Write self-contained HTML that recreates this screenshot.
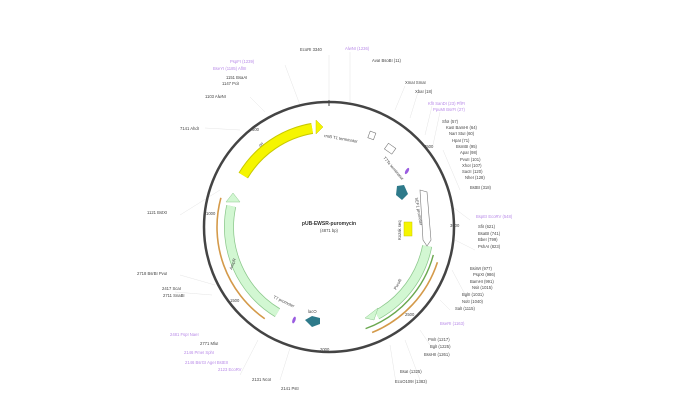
<!DOCTYPE html>
<html><head><meta charset="utf-8"><style>
html,body{margin:0;padding:0;background:#fff;}
svg{display:block;}
text{font-family:"Liberation Sans",sans-serif;font-size:4.2px;}
.k{fill:#444}.p{fill:#b98be8}
</style></head><body>
<svg width="675" height="417" viewBox="0 0 675 417">
<g stroke="#ddd" stroke-width="0.4" fill="none">
<path d="M329 102 V55 M350 104 V52 M395 110 L405 86 M410 118 L418 92 M425 135 L432 106 M433 145 L440 112 M443 150 L460 190 M450 205 L470 220 M455 240 L475 250 M452 270 L468 300 M440 300 L450 310 M420 330 L430 345 M405 340 L420 380 M390 345 L396 383 M258 340 L240 375 M290 348 L280 380 M215 285 L180 275 M212 295 L175 292 M220 190 L180 215 M240 130 L205 128 M265 112 L250 97 M300 105 L285 65"/>
</g>
<circle cx="329" cy="227" r="125" fill="none" stroke="#444" stroke-width="2.5"/>
<line x1="329" y1="100" x2="329" y2="106" stroke="#444" stroke-width="1"/>
<!-- yellow ori -->
<circle cx="329" cy="227" r="100" fill="none" stroke="#c8c800" stroke-width="11" stroke-dasharray="86 600" transform="rotate(-149 329 227)"/>
<circle cx="329" cy="227" r="100" fill="none" stroke="#f5f500" stroke-width="9" stroke-dasharray="86 600" transform="rotate(-149 329 227)"/>
<polygon points="316,120 323,127 316,134" fill="#f5f500" stroke="#c8c800" stroke-width="0.5"/>
<!-- left green -->
<circle cx="329" cy="227" r="100" fill="none" stroke="#8cc88c" stroke-width="10" stroke-dasharray="124 600" transform="rotate(121 329 227)"/>
<circle cx="329" cy="227" r="100" fill="none" stroke="#d2f7d2" stroke-width="8.5" stroke-dasharray="124 600" transform="rotate(121 329 227)"/>
<polygon points="226,202 233,193 240,202" fill="#d2f7d2" stroke="#8cc88c" stroke-width="0.5"/>
<circle cx="329" cy="227" r="112" fill="none" stroke="#d49a4a" stroke-width="1.6" stroke-dasharray="137 800" transform="rotate(125 329 227)"/>
<!-- right green -->
<circle cx="329" cy="227" r="100" fill="none" stroke="#8cc88c" stroke-width="10" stroke-dasharray="88 600" transform="rotate(11 329 227)"/>
<circle cx="329" cy="227" r="100" fill="none" stroke="#d2f7d2" stroke-width="8.5" stroke-dasharray="88 600" transform="rotate(11 329 227)"/>
<polygon points="378,308 365,318 374,320" fill="#d2f7d2" stroke="#8cc88c" stroke-width="0.5"/>
<circle cx="329" cy="227" r="108" fill="none" stroke="#6aa84f" stroke-width="1.4" stroke-dasharray="104 800" transform="rotate(15 329 227)"/>
<circle cx="329" cy="227" r="114" fill="none" stroke="#d49a4a" stroke-width="1.6" stroke-dasharray="99 800" transform="rotate(18 329 227)"/>
<!-- small features -->
<rect x="369" y="132" width="6" height="7" fill="#fff" stroke="#777" stroke-width="0.6" transform="rotate(20 372 135)"/>
<rect x="386" y="145" width="9" height="7" fill="#fff" stroke="#777" stroke-width="0.6" transform="rotate(35 390 148)"/>
<polygon points="420,190 427,192 431,240 427,246 423,240" fill="#fff" stroke="#777" stroke-width="0.6"/>
<rect x="404" y="222" width="8" height="14" fill="#f5f500" stroke="#c8c800" stroke-width="0.5"/>
<polygon points="397,186 404,185 408,194 402,200 396,195" fill="#2e7a8a"/>
<polygon points="305,320 312,316 320,318 320,324 312,327" fill="#2e7a8a"/>
<ellipse cx="407" cy="171" rx="1.5" ry="3.5" fill="#9a5ce0" transform="rotate(30 407 171)"/>
<ellipse cx="294" cy="320" rx="1.5" ry="3.5" fill="#9a5ce0" transform="rotate(20 294 320)"/>
<!-- inner labels -->
<text x="324" y="137" class="k" transform="rotate(10 324 137)">rrnB T1 terminator</text>
<text x="383" y="158" class="k" transform="rotate(50 383 158)">T7Te terminator</text>
<text x="415" y="198" class="k" transform="rotate(80 415 198)">hEF1 promoter</text>
<text x="401" y="240" class="k" transform="rotate(-90 401 240)">Kozak seq</text>
<text x="260" y="147" class="k" transform="rotate(-40 260 147)">ori</text>
<text x="232" y="270" class="k" transform="rotate(-70 232 270)">AmpR</text>
<text x="396" y="290" class="k" transform="rotate(-60 396 290)">PuroR</text>
<text x="273" y="298" class="k" transform="rotate(25 273 298)">T7 promoter</text>
<text x="308" y="313" class="k">lacO</text>
<text x="329" y="225" text-anchor="middle" style="font-size:5px;font-weight:bold" fill="#333">pUB-EWSR-puromycin</text>
<text x="329" y="232" text-anchor="middle" class="k">(4871 bp)</text>
<!-- tick labels -->
<text x="252" y="131" class="k">500</text><text x="206" y="215" class="k">1000</text><text x="230" y="302" class="k">1500</text><text x="320" y="351" class="k">2000</text><text x="405" y="316" class="k">2500</text><text x="450" y="227" class="k">3000</text><text x="424" y="148" class="k">3500</text>
<!-- outer labels -->
<text x="300" y="51" class="k">EcoRI  3340</text>
<text x="345" y="50" class="p">AlwNI  (1236)</text>
<text x="372" y="62" class="k">AvaI  BsoBI  (11)</text>
<text x="230" y="63" class="p">PspFI  (1239)</text>
<text x="213" y="70" class="p">BseYI  (1185)  AflIII</text>
<text x="226" y="79" class="k">1151  BsaAI</text>
<text x="222" y="85" class="k">1147  PciI</text>
<text x="205" y="98" class="k">1103  AlwNI</text>
<text x="180" y="130" class="k">7141  AhdI</text>
<text x="147" y="214" class="k">1121  BstXI</text>
<text x="137" y="275" class="k">2718  BsrBI  PvuI</text>
<text x="162" y="290" class="k">2417  ScaI</text>
<text x="163" y="297" class="k">2711  SnaBI</text>
<text x="170" y="336" class="p">2481  FspI  NaeI</text>
<text x="200" y="345" class="k">2771  MluI</text>
<text x="184" y="354" class="p">2146  PmeI  SphI</text>
<text x="185" y="364" class="p">2146  BsrGI  AgeI  BstEII</text>
<text x="218" y="371" class="p">2123  EcoRV</text>
<text x="252" y="381" class="k">2131  NcoI</text>
<text x="281" y="390" class="k">2141  PstI</text>
<text x="405" y="84" class="k">XmaI  SmaI</text>
<text x="415" y="93" class="k">XbaI  (18)</text>
<text x="428" y="105" class="p">KflI  SanDI  (23)  PflFI</text>
<text x="433" y="111" class="p">PpuMI  BsrFI  (27)</text>
<text x="442" y="123" class="k">SfoI  (57)</text>
<text x="446" y="129" class="k">KasI  BamHI  (64)</text>
<text x="449" y="135" class="k">NarI  StuI  (60)</text>
<text x="452" y="142" class="k">HpaI  (71)</text>
<text x="456" y="148" class="k">BsmBI  (95)</text>
<text x="460" y="154" class="k">ApaI  (98)</text>
<text x="460" y="161" class="k">PvuII  (101)</text>
<text x="462" y="167" class="k">XhoI  (107)</text>
<text x="462" y="173" class="k">SacII  (120)</text>
<text x="465" y="179" class="k">NheI  (128)</text>
<text x="470" y="189" class="k">BstBI  (318)</text>
<text x="476" y="218" class="p">BspEI  EcoRV  (548)</text>
<text x="478" y="228" class="k">SfiI  (621)</text>
<text x="478" y="235" class="k">BsaBI  (741)</text>
<text x="478" y="241" class="k">BbeI  (799)</text>
<text x="478" y="248" class="k">PshAI  (823)</text>
<text x="470" y="270" class="k">BsiWI  (977)</text>
<text x="473" y="276" class="k">PspXI  (986)</text>
<text x="470" y="283" class="k">BamHI  (991)</text>
<text x="472" y="289" class="k">NsiI  (1015)</text>
<text x="462" y="296" class="k">BglII  (1031)</text>
<text x="462" y="303" class="k">NotI  (1040)</text>
<text x="455" y="310" class="k">SalI  (1115)</text>
<text x="440" y="325" class="p">BseRI  (1163)</text>
<text x="428" y="341" class="k">PmlI  (1217)</text>
<text x="430" y="348" class="k">BglI  (1225)</text>
<text x="424" y="356" class="k">BssHII  (1261)</text>
<text x="400" y="373" class="k">BsaI  (1325)</text>
<text x="395" y="383" class="k">EcoO109I  (1383)</text>
</svg>
</body></html>
